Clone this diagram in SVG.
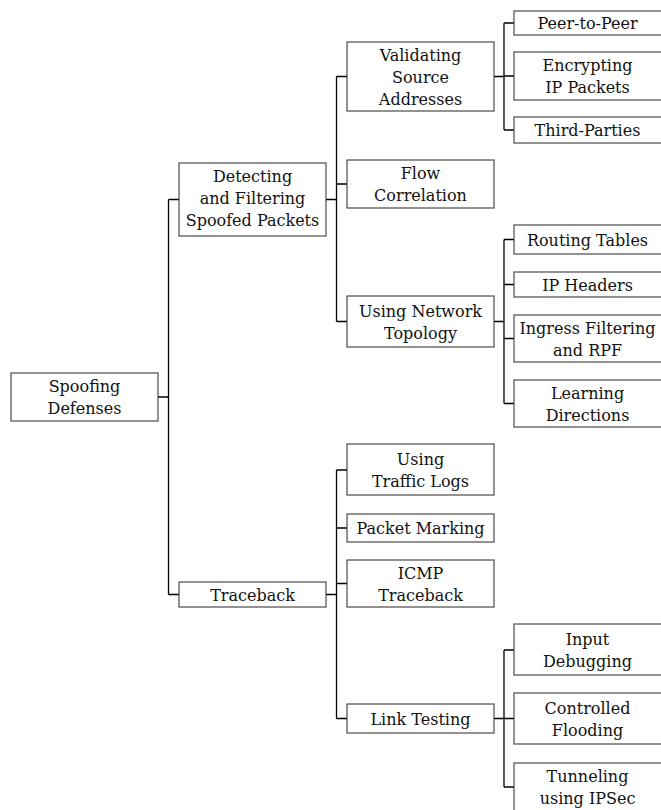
<svg xmlns="http://www.w3.org/2000/svg" width="661" height="810" viewBox="0 0 661 810">
<style>
.box{fill:#fff;stroke:#3a3a3a;stroke-width:1.1}
.c{fill:none;stroke:#000;stroke-width:1.3}
</style>
<rect width="661" height="810" fill="#fff"/>
<g id="connectors">
<path class="c" d="M158 397H168.5M168.5 199.5V594.5M168.5 199.5H179M168.5 594.5H179"/>
<path class="c" d="M326 199.5H336.5M336.5 76.5V321.5M336.5 76.5H347M336.5 184H347M336.5 321.5H347"/>
<path class="c" d="M326 594.5H336.5M336.5 470V718.5M336.5 470H347M336.5 528H347M336.5 583.5H347M336.5 718.5H347"/>
<path class="c" d="M494 76.5H504M504 23V130M504 23H514M504 76H514M504 130H514"/>
<path class="c" d="M494 321.5H504M504 239.5V403.5M504 239.5H514M504 284.5H514M504 338.5H514M504 403.5H514"/>
<path class="c" d="M494 718.5H504M504 650V787M504 650H514M504 718.5H514M504 787H514"/>
</g>
<g font-family="'DejaVu Serif', serif" font-size="16" fill="#111" text-anchor="middle">
<g id="root"><rect class="box" x="11" y="373" width="147" height="48"/><text x="84.5" y="392">Spoofing</text><text x="84.5" y="414">Defenses</text></g>
<g id="detecting"><rect class="box" x="179" y="163" width="147" height="73"/><text x="252.5" y="182">Detecting</text><text x="252.5" y="204">and Filtering</text><text x="252.5" y="226">Spoofed Packets</text></g>
<g id="traceback"><rect class="box" x="179" y="582" width="147" height="25"/><text x="252.5" y="600.5">Traceback</text></g>
<g id="validating"><rect class="box" x="347" y="42" width="147" height="69"/><text x="420.5" y="61">Validating</text><text x="420.5" y="83">Source</text><text x="420.5" y="105">Addresses</text></g>
<g id="flow"><rect class="box" x="347" y="160" width="147" height="48"/><text x="420.5" y="179">Flow</text><text x="420.5" y="201">Correlation</text></g>
<g id="topology"><rect class="box" x="347" y="296" width="147" height="51"/><text x="420.5" y="316.5">Using Network</text><text x="420.5" y="338.5">Topology</text></g>
<g id="logs"><rect class="box" x="347" y="444" width="147" height="51"/><text x="420.5" y="464.5">Using</text><text x="420.5" y="486.5">Traffic Logs</text></g>
<g id="marking"><rect class="box" x="347" y="514" width="147" height="28"/><text x="420.5" y="534">Packet Marking</text></g>
<g id="icmp"><rect class="box" x="347" y="560" width="147" height="47"/><text x="420.5" y="578.5">ICMP</text><text x="420.5" y="600.5">Traceback</text></g>
<g id="link"><rect class="box" x="347" y="704" width="147" height="29"/><text x="420.5" y="724.5">Link Testing</text></g>
<g id="p2p"><rect class="box" x="514" y="11" width="150" height="24"/><text x="587.5" y="29">Peer-to-Peer</text></g>
<g id="encrypt"><rect class="box" x="514" y="52" width="150" height="48"/><text x="587.5" y="71">Encrypting</text><text x="587.5" y="93">IP Packets</text></g>
<g id="third"><rect class="box" x="514" y="117" width="150" height="26"/><text x="587.5" y="136">Third-Parties</text></g>
<g id="routing"><rect class="box" x="514" y="225" width="150" height="29"/><text x="587.5" y="245.5">Routing Tables</text></g>
<g id="ipheaders"><rect class="box" x="514" y="272" width="150" height="25"/><text x="587.5" y="290.5">IP Headers</text></g>
<g id="ingress"><rect class="box" x="514" y="315" width="150" height="47"/><text x="587.5" y="333.5">Ingress Filtering</text><text x="587.5" y="355.5">and RPF</text></g>
<g id="learning"><rect class="box" x="514" y="380" width="150" height="47"/><text x="587.5" y="398.5">Learning</text><text x="587.5" y="420.5">Directions</text></g>
<g id="input"><rect class="box" x="514" y="624" width="150" height="51"/><text x="587.5" y="644.5">Input</text><text x="587.5" y="666.5">Debugging</text></g>
<g id="flooding"><rect class="box" x="514" y="693" width="150" height="51"/><text x="587.5" y="713.5">Controlled</text><text x="587.5" y="735.5">Flooding</text></g>
<g id="tunneling"><rect class="box" x="514" y="763" width="150" height="50"/><text x="587.5" y="782">Tunneling</text><text x="587.5" y="804">using IPSec</text></g>
</g>
</svg>
